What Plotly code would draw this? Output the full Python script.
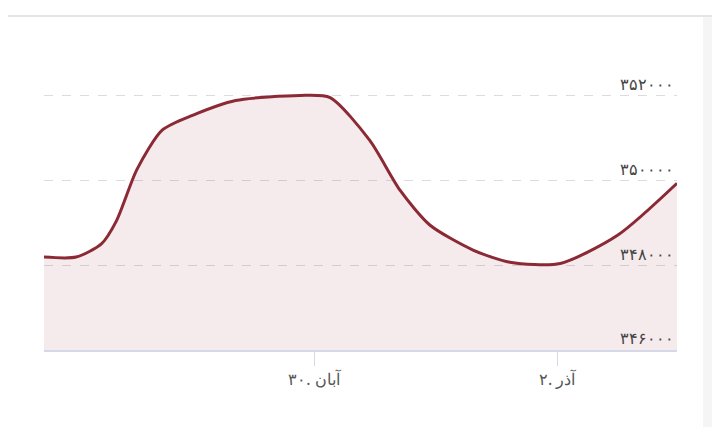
import plotly.graph_objects as go

# time points and values
times = ["2024-11-17 18:40", "2024-11-18 01:00", "2024-11-18 06:00", "2024-11-18 09:00",
         "2024-11-18 13:00", "2024-11-18 18:00", "2024-11-19 00:00", "2024-11-19 08:30",
         "2024-11-19 21:15", "2024-11-20 03:10", "2024-11-20 11:00", "2024-11-20 17:00",
         "2024-11-20 22:55", "2024-11-21 07:30", "2024-11-21 14:40", "2024-11-22 00:35",
         "2024-11-22 12:00", "2024-11-22 23:40"]
prices = [348190, 348190, 348500, 349050, 350250, 351180, 351530, 351880,
          352000, 351950, 350940, 349760, 348940, 348350, 348070, 348040, 348710, 349930]

y_ticks = [346000, 348000, 350000, 352000]
y_labels = ["۳۴۶۰۰۰", "۳۴۸۰۰۰", "۳۵۰۰۰۰", "۳۵۲۰۰۰"]
x_ticks = ["2024-11-20", "2024-11-22"]
x_labels = ["۳۰. آبان", "۲. آذر"]

fig = go.Figure()
fig.add_trace(go.Scatter(x=times, y=prices, mode="lines",
                         line=dict(color="#8b2a35", width=3, shape="spline", smoothing=0.7),
                         fill="tozeroy", fillcolor="rgba(160,60,80,0.11)"))

fig.update_layout(
    width=720, height=427, showlegend=False,
    margin=dict(l=36, r=51, t=45, b=85),
    paper_bgcolor="white", plot_bgcolor="white",
    font=dict(family="Noto Sans", color="#555", size=16),
    shapes=[dict(type="line", xref="paper", yref="paper", x0=-0.07, x1=1.07, y0=1.125, y1=1.125,
                 line=dict(color="#ddd", width=1.5)),
            dict(type="rect", xref="paper", yref="paper", x0=1.041, x1=1.1, y0=-0.3, y1=1.12,
                 fillcolor="#f5f5f5", line=dict(width=0))],
)
fig.update_xaxes(range=["2024-11-17 18:40", "2024-11-22 23:40"], tickvals=x_ticks, ticktext=x_labels,
                 showgrid=False, showline=True, linecolor="#d4d8e8", linewidth=1.5,
                 ticks="outside", ticklen=14, tickcolor="#d4d8e8")
fig.update_yaxes(range=[346000, 353000], side="right", tickvals=y_ticks, ticktext=y_labels,
                 ticklabelposition="inside top", gridcolor="#dcdcdc", griddash="dash", zeroline=False)

fig.write_html("out.html")
